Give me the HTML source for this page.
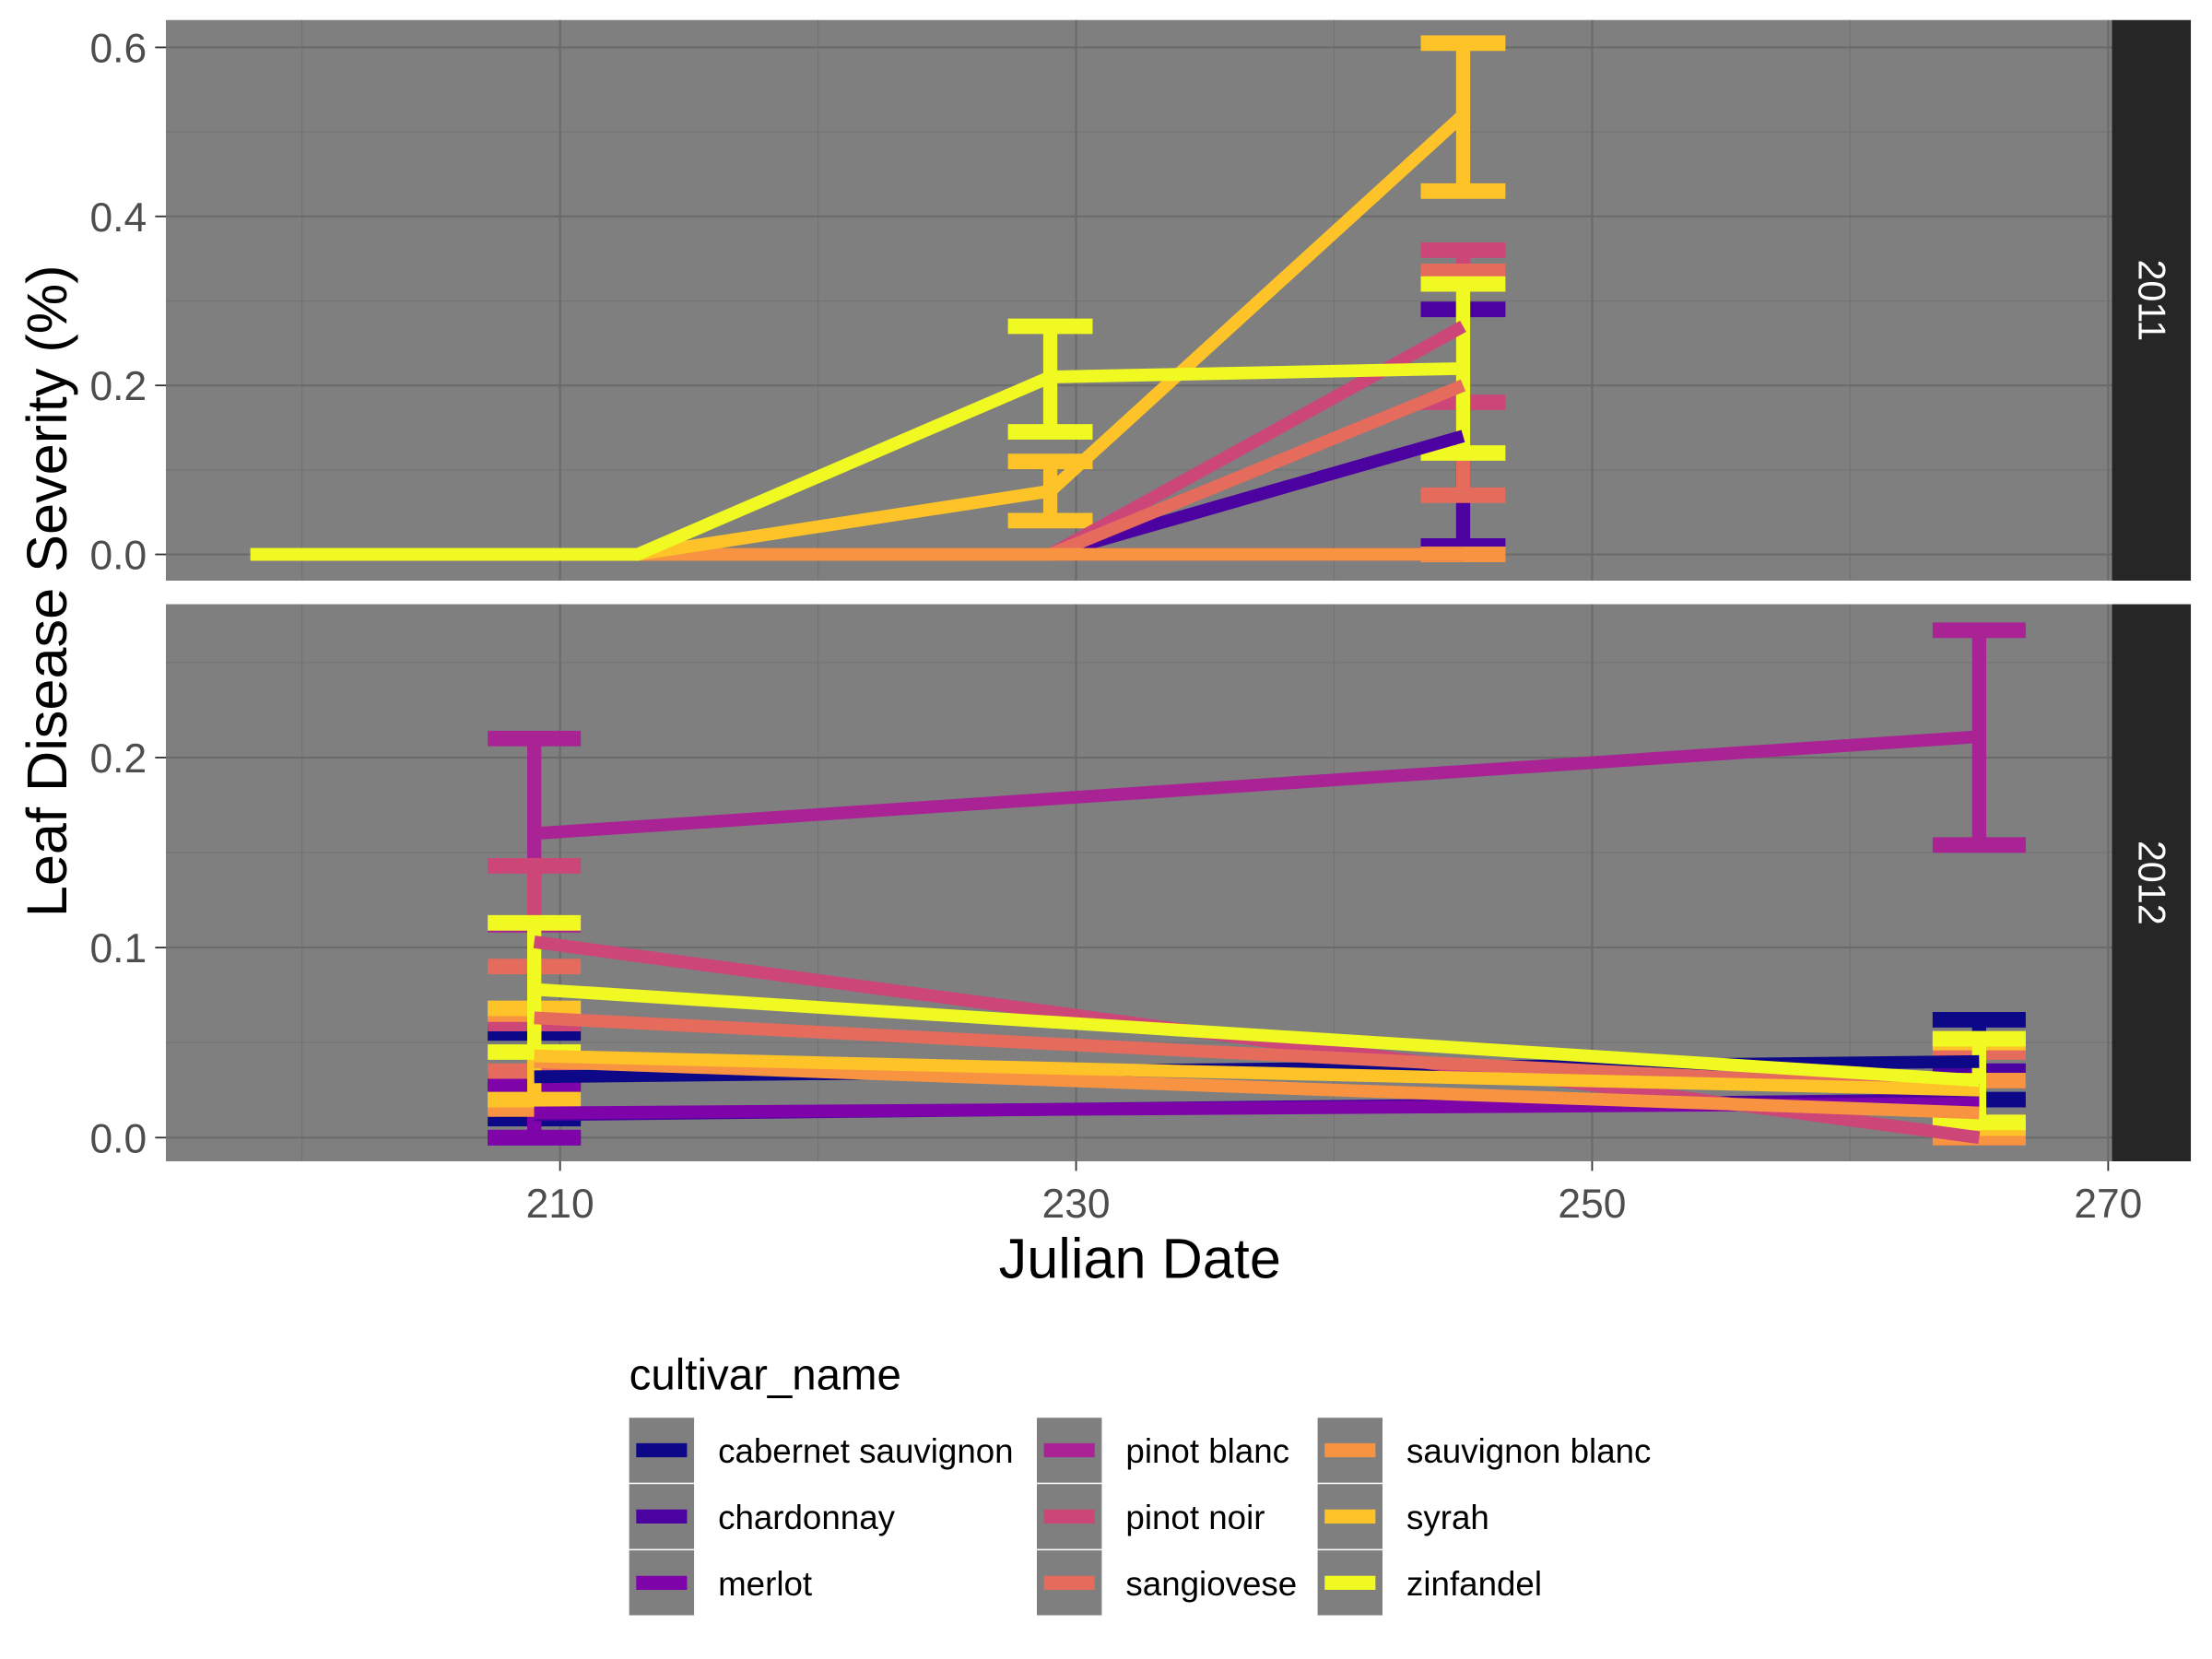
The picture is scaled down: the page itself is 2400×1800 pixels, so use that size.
<!DOCTYPE html>
<html><head><meta charset="utf-8"><style>
html,body{margin:0;padding:0;background:#fff}
svg{display:block;font-family:"Liberation Sans",Arial,sans-serif}
</style></head><body>
<svg id="chart" width="2400" height="1800" viewBox="0 0 1568 1176" preserveAspectRatio="none" xmlns="http://www.w3.org/2000/svg">
<rect width="1568" height="1176" fill="#fff"/>
<g id="panels"></g>
<g id="series"></g>
<g id="axes"></g>
<g id="legend"></g>
</svg>
<script>
const cultivars = ["cabernet sauvignon","chardonnay","merlot","pinot blanc","pinot noir","sangiovese","sauvignon blanc","syrah","zinfandel"];
const colors = ["#0D0887","#4C02A1","#7E03A8","#A92395","#CC4678","#E56B5D","#F89441","#FDC328","#F0F921"];
// 2011 panel
const dates2011 = [198,213,229,245];
const mean2011 = [
 [0,0,0,0],[0,0,0,0.14],[0,0,0,0],[0,0,0,0],[0,0,0,0.27],[0,0,0,0.2],[0,0,0,0],[0,0,0.075,0.52],[0,0,0.21,0.22]];
const lo2011 = [
 [null,null,null,null],[null,null,null,0.01],[null,null,null,null],[null,null,null,null],[null,null,null,0.18],[null,null,null,0.07],[null,null,null,0],[null,null,0.04,0.43],[null,null,0.145,0.12]];
const hi2011 = [
 [null,null,null,null],[null,null,null,0.29],[null,null,null,null],[null,null,null,null],[null,null,null,0.36],[null,null,null,0.335],[null,null,null,0],[null,null,0.11,0.605],[null,null,0.27,0.32]];
// 2012 panel
const dates2012 = [209,265];
const mean2012 = [[0.032,0.04],[0.012,0.02],[0.013,0.018],[0.16,0.211],[0.103,0.0],[0.063,0.025],[0.04,0.013],[0.043,0.025],[0.078,0.03]];
const lo2012 = [[0.01,0.02],[0,0.005],[0,0.005],[0.112,0.154],[0.06,0],[0.035,0.008],[0.015,0],[0.02,0.005],[0.045,0.008]];
const hi2012 = [[0.055,0.062],[0.03,0.035],[0.028,0.03],[0.21,0.267],[0.143,0.005],[0.09,0.045],[0.065,0.03],[0.068,0.05],[0.113,0.052]];
const xTicks = [210,230,250,270];
const yTicks2011 = [0,0.2,0.4,0.6];
const yTicks2012 = [0,0.1,0.2];

const NS="http://www.w3.org/2000/svg";
function mk(tag,attrs,parent){const e=document.createElementNS(NS,tag);for(const k in attrs)e.setAttribute(k,attrs[k]);parent.appendChild(e);return e;}
const xs = d => 397 + (d-210)*18.29;
const ys1 = v => 393 - v*599;
const ys2 = v => 806.4 - v*1347;
const P=document.getElementById('panels'),S=document.getElementById('series'),A=document.getElementById('axes'),L=document.getElementById('legend');

function panel(y0,y1,ys,ticks,minor,label,name){
  const r=mk('rect',{x:117.6,y:y0,width:1379.4,height:y1-y0,fill:'#7F7F7F'},P);
  
  
  minor.forEach(v=>mk('line',{x1:117.6,x2:1497,y1:ys(v),y2:ys(v),stroke:'#747474','stroke-width':0.8},P));
  [200,220,240,260].forEach(d=>mk('line',{x1:xs(d),x2:xs(d),y1:y0,y2:y1,stroke:'#747474','stroke-width':0.8},P));
  ticks.forEach(v=>mk('line',{x1:117.6,x2:1497,y1:ys(v),y2:ys(v),stroke:'#6B6B6B','stroke-width':1.4},P));
  xTicks.forEach(d=>mk('line',{x1:xs(d),x2:xs(d),y1:y0,y2:y1,stroke:'#6B6B6B','stroke-width':1.4},P));
  const s=mk('rect',{x:1497,y:y0,width:56,height:y1-y0,fill:'#262626'},P);
  
  
  const t=mk('text',{x:0,y:0,fill:'#fff','font-size':27,'text-anchor':'middle',transform:`translate(1516,${(y0+y1)/2}) rotate(90)`},P);
  t.textContent=label;
  
  
  ticks.forEach(v=>{
    mk('line',{x1:110,x2:117.6,y1:ys(v),y2:ys(v),stroke:'#333','stroke-width':1.2},A);
    const tt=mk('text',{x:104,y:ys(v)+10.5,'text-anchor':'end','font-size':29,fill:'#4D4D4D'},A);
    tt.textContent=v.toFixed(1);
    
    
  });
}
panel(14.2,411.6,ys1,yTicks2011,[0.1,0.3,0.5],'2011','panel-2011');
panel(428.3,823.2,ys2,yTicks2012,[0.05,0.15,0.25],'2012','panel-2012');

xTicks.forEach(d=>{
  mk('line',{x1:xs(d),x2:xs(d),y1:823.2,y2:830,stroke:'#333','stroke-width':1.2},A);
  const t=mk('text',{x:xs(d),y:863,'text-anchor':'middle','font-size':29,fill:'#4D4D4D'},A);
  t.textContent=d;
  
  
});
let t=mk('text',{x:808,y:906,'text-anchor':'middle','font-size':40,fill:'#000'},A);
t.textContent='Julian Date';


t=mk('text',{x:0,y:0,'text-anchor':'middle','font-size':40,fill:'#000',transform:'translate(47,419) rotate(-90)'},A);
t.textContent='Leaf Disease Severity (%)';



function drawSeries(dates,mean,lo,hi,ys,cap,yr){
  cultivars.forEach((c,i)=>{
    dates.forEach((d,j)=>{
      if(lo[i][j]==null)return;
      const g=mk('g',{stroke:colors[i],'stroke-width':10,fill:'none'},S);
      
      
      mk('line',{x1:xs(d),x2:xs(d),y1:ys(lo[i][j]),y2:ys(hi[i][j])},g);
      mk('line',{x1:xs(d)-cap,x2:xs(d)+cap,y1:ys(lo[i][j]),y2:ys(lo[i][j]),'stroke-width':11},g);
      mk('line',{x1:xs(d)-cap,x2:xs(d)+cap,y1:ys(hi[i][j]),y2:ys(hi[i][j]),'stroke-width':11},g);
    });
  });
  cultivars.forEach((c,i)=>{
    const pts=dates.map((d,j)=>xs(d)+','+ys(mean[i][j])).join(' ');
    const p=mk('polyline',{points:pts,fill:'none',stroke:colors[i],'stroke-width':9},S);
    
    
  });
}
drawSeries(dates2011,mean2011,lo2011,hi2011,ys1,30,'2011');
drawSeries(dates2012,mean2012,lo2012,hi2012,ys2,33,'2012');

t=mk('text',{x:446,y:985,'font-size':31,fill:'#000'},L);
t.textContent='cultivar_name';


const colX=[446,735,934];
cultivars.forEach((c,i)=>{
  const cx=colX[Math.floor(i/3)], cy=1005+(i%3)*47;
  const g=mk('g',{},L);
  
  
  mk('rect',{x:cx,y:cy,width:46,height:46,fill:'#7F7F7F'},g);
  mk('line',{x1:cx+5,x2:cx+41,y1:cy+23,y2:cy+23,stroke:colors[i],'stroke-width':10},g);
  const tx=mk('text',{x:cx+63,y:cy+32,'font-size':24,fill:'#000'},g);
  tx.textContent=c;
});
</script>
</body></html>
